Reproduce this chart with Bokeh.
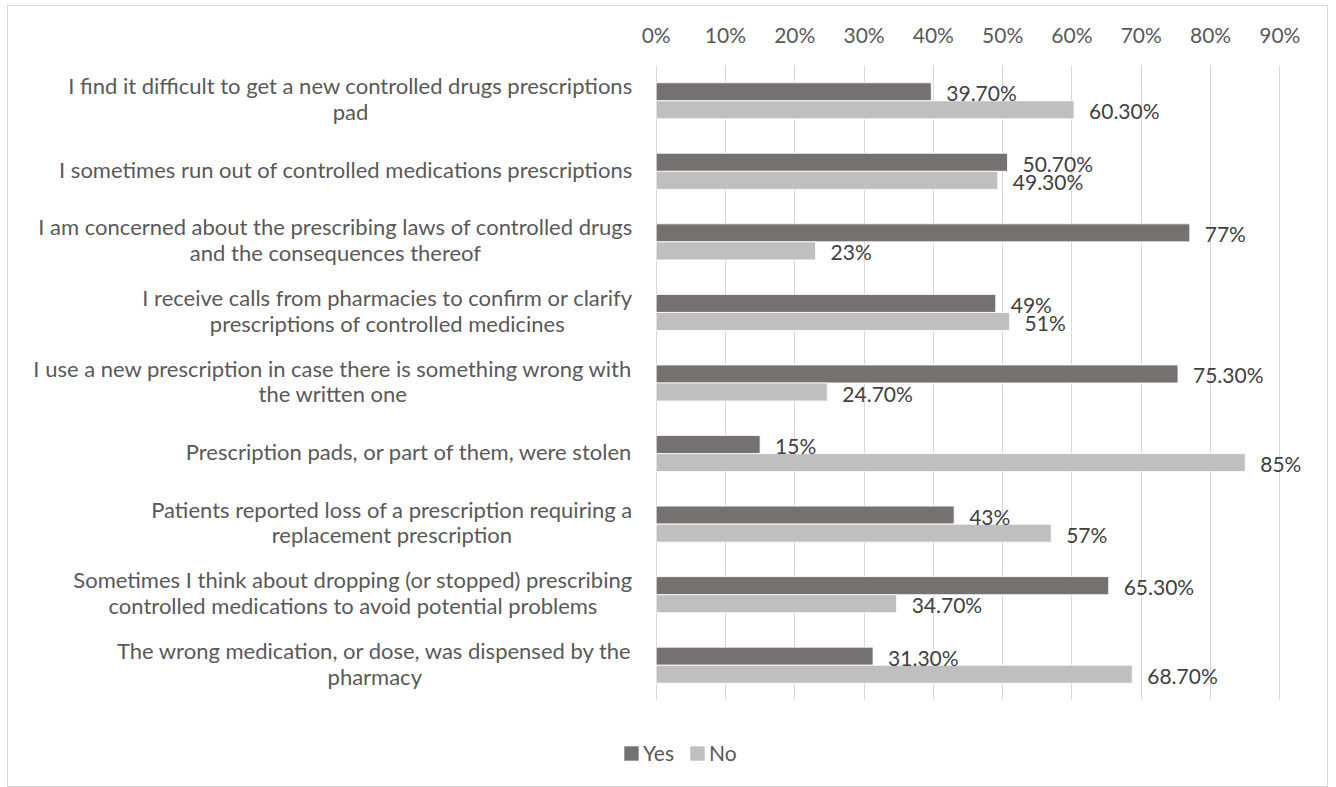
from bokeh.plotting import figure
from bokeh.layouts import column
from bokeh.models import (ColumnDataSource, FactorRange, Range1d, FixedTicker, NumeralTickFormatter,
                          Legend, LegendItem)
from bokeh.transform import dodge
from bokeh.core.properties import value
from bokeh.embed import file_html
from bokeh.resources import INLINE

categories = [
    "I find it difficult to get a new controlled drugs prescriptions\npad",
    "I sometimes run out of controlled medications prescriptions",
    "I am concerned about the prescribing laws of controlled drugs\nand the consequences thereof",
    "I receive calls from pharmacies to confirm or clarify\nprescriptions of controlled medicines",
    "I use a new prescription in case there is something wrong with\nthe written one",
    "Prescription pads, or part of them, were stolen",
    "Patients reported loss of a prescription requiring a\nreplacement prescription",
    "Sometimes I think about dropping (or stopped) prescribing\ncontrolled medications to avoid potential problems",
    "The wrong medication, or dose, was dispensed by the\npharmacy",
]
yes_values = [0.397, 0.507, 0.77, 0.49, 0.753, 0.15, 0.43, 0.653, 0.313]
no_values = [0.603, 0.493, 0.23, 0.51, 0.247, 0.85, 0.57, 0.347, 0.687]
yes_labels = ["39.70%", "50.70%", "77%", "49%", "75.30%", "15%", "43%", "65.30%", "31.30%"]
no_labels = ["60.30%", "49.30%", "23%", "51%", "24.70%", "85%", "57%", "34.70%", "68.70%"]
x_ticks = [0.0, 0.1, 0.2, 0.3, 0.4, 0.5, 0.6, 0.7, 0.8, 0.9]
series_names = ["Yes", "No"]

YES_COLOR = "#767171"
NO_COLOR = "#bfbfbf"
TEXT_COLOR = "#595959"
FONT = "Lato"
FS_CAT = "22px"
FS = "21px"

src = ColumnDataSource(dict(cat=categories, yes=yes_values, no=no_values,
                            yes_lab=yes_labels, no_lab=no_labels))

p = figure(width=1319, height=694,
           y_range=FactorRange(factors=list(reversed(categories))),
           x_range=Range1d(-0.9245, 0.95),
           x_axis_location="above", y_axis_location=None,
           output_backend="svg", toolbar_location=None,
           min_border_left=7, min_border_right=13, min_border_top=59, min_border_bottom=0,
           background_fill_color="white", border_fill_color="white")
p.outline_line_color = None

bh = 0.255
r_yes = p.hbar(y=dodge("cat", 0.128, range=p.y_range), left=0, right="yes", height=bh,
               source=src, fill_color=YES_COLOR, line_color="white", line_width=0.8)
r_no = p.hbar(y=dodge("cat", -0.128, range=p.y_range), left=0, right="no", height=bh,
              source=src, fill_color=NO_COLOR, line_color="white", line_width=0.8)

p.text(x="yes", y=dodge("cat", 0.128, range=p.y_range), text="yes_lab", source=src,
       x_offset=15, y_offset=1, text_align="left", text_baseline="middle",
       text_font=value(FONT), text_font_size=FS, text_color="#404040")
p.text(x="no", y=dodge("cat", -0.128, range=p.y_range), text="no_lab", source=src,
       x_offset=15, y_offset=1, text_align="left", text_baseline="middle",
       text_font=value(FONT), text_font_size=FS, text_color="#404040")

# category labels (centered lines, block anchored at right)
p.text(x=-0.034, y="cat", text="cat", source=src,
       anchor=value("center_right"), text_align="center", text_baseline="middle",
       text_line_height=0.955, y_offset=-2,
       text_font=value(FONT), text_font_size=FS_CAT, text_color=TEXT_COLOR)

ax = p.xaxis[0]
ax.ticker = FixedTicker(ticks=x_ticks)
ax.formatter = NumeralTickFormatter(format="0%")
ax.axis_line_color = None
ax.major_tick_line_color = None
ax.minor_tick_line_color = None
ax.major_tick_out = 0
ax.minor_tick_out = 0
ax.major_label_standoff = 19
ax.major_label_text_font = FONT
ax.major_label_text_font_size = FS
ax.major_label_text_color = TEXT_COLOR

p.xgrid.ticker = FixedTicker(ticks=x_ticks)
p.xgrid.grid_line_color = "#d9d9d9"
p.xgrid.grid_line_width = 1
p.ygrid.grid_line_color = None

# legend strip below the chart (proxy renderers sit outside the visible range)
p2 = figure(width=1319, height=86, x_axis_location=None, y_axis_location=None,
            x_range=Range1d(0, 1), y_range=Range1d(0, 1),
            output_backend="svg", toolbar_location=None, min_border=0,
            background_fill_color="white", border_fill_color="white")
p2.outline_line_color = None
p2.grid.visible = False
proxy = ColumnDataSource(dict(y=[-10.0], left=[-10.0], right=[-9.0]))
l_yes = p2.hbar(y="y", right="right", left="left", height=0.5, source=proxy,
                fill_color=YES_COLOR, line_color=None)
l_no = p2.hbar(y="y", right="right", left="left", height=0.5, source=proxy,
               fill_color=NO_COLOR, line_color=None)

legend = Legend(items=[LegendItem(label=series_names[0], renderers=[l_yes]),
                       LegendItem(label=series_names[1], renderers=[l_no])],
                orientation="horizontal", location=(607, 21),
                padding=0, margin=0, spacing=14, label_standoff=3,
                glyph_width=18, glyph_height=18,
                label_text_font=FONT, label_text_font_size=FS,
                label_text_color=TEXT_COLOR,
                border_line_color=None, background_fill_alpha=0)
p2.add_layout(legend, "center")

layout = column(p, p2, spacing=0, margin=(5, 0, 0, 7),
                styles={"border": "1px solid #d9d9d9"})

open("out.html", "w").write(file_html(layout, INLINE))
